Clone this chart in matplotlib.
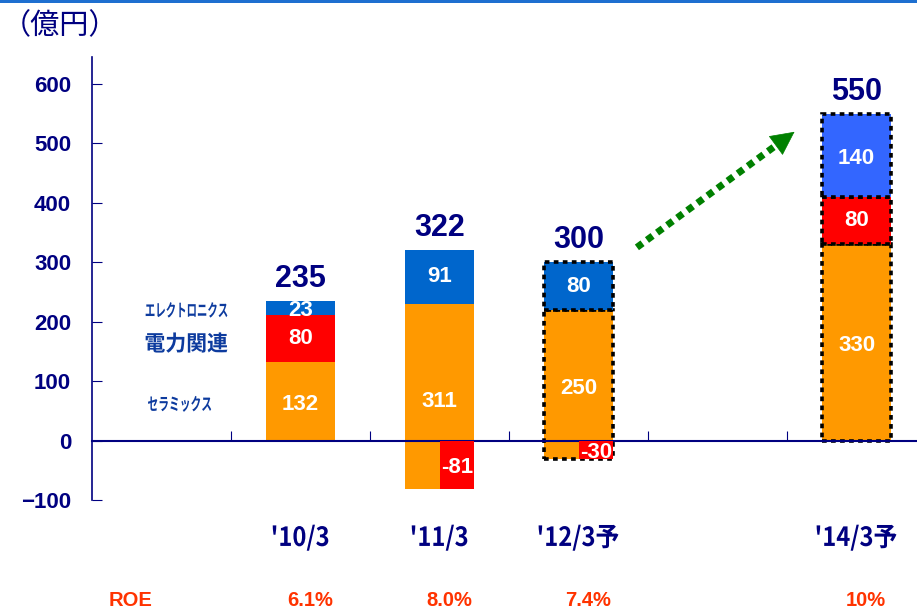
import matplotlib.pyplot as plt
import matplotlib.transforms as mtransforms
from matplotlib.patches import Rectangle, PathPatch
from matplotlib.textpath import TextPath
from matplotlib.font_manager import FontProperties

# data
categories = ["'10/3", "'11/3", "'12/3予", "'14/3予"]
slots = [1, 2, 3, 5]          # slot 0 holds the segment names, slot 4 is the gap
ceramics = [132, 311, 250, 330]
power = [80, -81, -30, 80]
electronics = [23, 91, 80, 140]
totals = [235, 322, 300, 550]
roe = ['6.1%', '8.0%', '7.4%', '10%']
forecast = [False, False, True, True]
yticks = [-100, 0, 100, 200, 300, 400, 500, 600]

NAVY = '#000080'
ORANGE = '#FF9900'
RED = '#FF0000'
BLUE = '#0066CC'
BLUE_FC = '#3366FF'
LEGEND_BLUE = '#0D3B9E'
ROE_RED = '#FF3300'
NUM_FONT = 'Liberation Sans'
JP_FONT = ['Noto Sans CJK JP', 'DejaVu Sans']

fig = plt.figure(figsize=(9.17, 6.12), dpi=100)
ax = fig.add_axes([92 / 917, 110 / 612, 825 / 917, 445 / 612])
ax.set_xlim(-0.5, 5.435)
ax.set_ylim(-103, 645)

# thin blue rule along the top of the slide
fig.add_artist(Rectangle((0, 1 - 3 / 612), 1, 3 / 612, transform=fig.transFigure,
                         color='#1E6FD0', lw=0))
fig.text(2 / 917, 1 - 26 / 612, '（億円）', family=JP_FONT, fontsize=21, color=NAVY,
         va='center', ha='left')

width = 0.5


def narrow_text(x, y, s, size, xscale, color):
    """Draw bold CJK text squeezed horizontally, centred on (x, y) in data units."""
    fp = FontProperties(family='Noto Sans CJK JP', weight='bold')
    tp = TextPath((0, 0), s, size=size, prop=fp)
    ext = tp.get_extents()
    cx, cy = (ext.x0 + ext.x1) / 2, (ext.y0 + ext.y1) / 2
    tr = (mtransforms.Affine2D().translate(-cx, -cy)
          .scale(xscale * fig.dpi / 72, fig.dpi / 72)
          + mtransforms.ScaledTranslation(x, y, ax.transData))
    ax.add_patch(PathPatch(tp, transform=tr, facecolor=color, lw=0, clip_on=False))


def seg(x, bottom, height, color, dashed, z=2):
    if dashed:
        ax.bar(x, height, width, bottom=bottom, color=color, zorder=z,
               edgecolor='black', linewidth=2.6, linestyle=(0, (1.3, 1.2)))
    else:
        ax.bar(x, height, width, bottom=bottom, color=color, zorder=z, linewidth=0)


def label(x, y, text, size=16):
    ax.text(x, y, text, ha='center', va='center', color='white', fontsize=size,
            fontweight='bold', family=NUM_FONT, zorder=5)


for i, x in enumerate(slots):
    c, p, e, fc = ceramics[i], power[i], electronics[i], forecast[i]
    top_blue = BLUE_FC if x == 5 else BLUE
    if p >= 0:
        seg(x, 0, c, ORANGE, fc)
        seg(x, c, p, RED, fc)
        seg(x, c + p, e, top_blue, fc)
        label(x, c / 2 - 5, str(c))
        label(x, c + p / 2, str(p))
        label(x, c + p + e / 2 - 5, str(e))
        top = c + p + e
    else:
        seg(x, p, c, ORANGE, fc)
        ax.bar(x + width / 4, p, width / 2, color=RED, zorder=3, linewidth=0)
        seg(x, p + c, e, top_blue, fc)
        label(x, p + c / 2 - 8, str(c))
        label(x + width / 4, p / 2 - 5, str(p))
        label(x, p + c + e / 2, str(e))
        top = p + c + e
    ax.annotate(str(totals[i]), (x, top), xytext=(0, 5), textcoords='offset points',
                ha='center', va='bottom', fontsize=22, fontweight='bold',
                color=NAVY, family=NUM_FONT)
    narrow_text(x, -163, categories[i], 19, 0.9, NAVY)
    ax.text(x + 0.07, -268, roe[i], ha='center', va='center', fontsize=14.5,
            fontweight='bold', color=ROE_RED, family=NUM_FONT, clip_on=False)

ax.text(-0.22, -268, 'ROE', ha='center', va='center', fontsize=14.5,
        fontweight='bold', color=ROE_RED, family=NUM_FONT, clip_on=False)

# segment names
narrow_text(0.18, 220, 'エレクトロニクス', 12.5, 0.6, LEGEND_BLUE)
narrow_text(0.18, 165, '電力関連', 15.5, 0.97, LEGEND_BLUE)
narrow_text(0.13, 62, 'セラミックス', 12.5, 0.62, LEGEND_BLUE)

# growth arrow
sx, sy, tx, ty = 3.42, 325, 4.57, 522
hx, hy = sx + (tx - sx) * 0.88, sy + (ty - sy) * 0.88
ax.plot([sx, hx], [sy, hy], color='#008000', lw=5, linestyle=(0, (1.0, 0.8)),
        zorder=4)
ax.annotate('', xy=(tx, ty), xytext=(hx - 0.01, hy - 1.7),
            arrowprops=dict(arrowstyle='-|>,head_length=1.6,head_width=0.8',
                            color='#008000', lw=0.5), zorder=4)

# axes styling
for s in ['top', 'right']:
    ax.spines[s].set_visible(False)
ax.spines['left'].set_color(NAVY)
ax.spines['left'].set_linewidth(1.2)
ax.spines['left'].set_bounds(-100, 645)
ax.spines['bottom'].set_position(('data', 0))
ax.spines['bottom'].set_color(NAVY)
ax.spines['bottom'].set_linewidth(1.5)
ax.set_yticks(yticks)
ax.set_yticklabels([str(v).replace('-', '−') for v in yticks], fontsize=16,
                   fontweight='bold', color=NAVY, family=NUM_FONT)
ax.tick_params(axis='y', direction='in', length=7, color=NAVY, pad=15)
ax.set_xticks([0.5, 1.5, 2.5, 3.5, 4.5])
ax.set_xticklabels([])
ax.tick_params(axis='x', direction='in', length=7, color=NAVY)

fig.savefig('out.png', dpi=100)
